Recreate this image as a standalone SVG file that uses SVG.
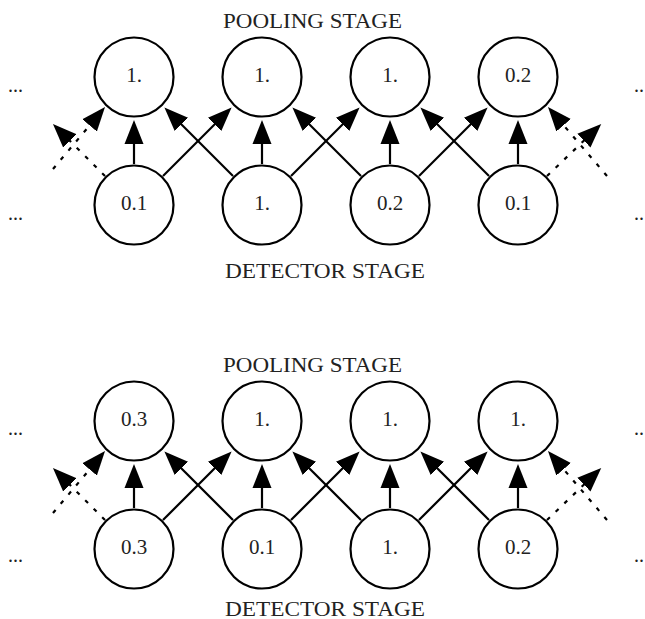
<svg xmlns="http://www.w3.org/2000/svg" width="645" height="619" viewBox="0 0 645 619">
<defs>
<style>
.n circle{fill:#fff;stroke:#000;stroke-width:2.2}
.n text,.lbl,.dots{font-family:"Liberation Serif","Times New Roman",serif;font-size:20px;fill:#222}
.n text{text-anchor:middle;font-size:21px}
.e line{stroke:#000;stroke-width:2.2;marker-end:url(#ah)}
.e line.d{stroke-dasharray:4 8}
</style>
<marker id="ah" markerUnits="userSpaceOnUse" markerWidth="26" markerHeight="22" viewBox="0 -11 26 22" refX="14" refY="0" orient="auto"><path d="M0,-9.5 L24,0 L0,9.5 z" fill="#000"/></marker>
</defs>

<!-- ===== Top panel ===== -->
<text class="lbl" x="223" y="28" textLength="179" lengthAdjust="spacingAndGlyphs">POOLING STAGE</text>
<text class="lbl" x="225" y="278" textLength="200" lengthAdjust="spacingAndGlyphs">DETECTOR STAGE</text>
<text class="dots" x="8" y="91.5">...</text>
<text class="dots" x="8" y="219.5">...</text>
<text class="dots" x="634" y="91.5">..</text>
<text class="dots" x="634" y="219.5">..</text>

<g id="edges-top" class="e">
<line x1="134" y1="164" x2="134" y2="130"/>
<line x1="262" y1="164" x2="262" y2="130"/>
<line x1="390" y1="164" x2="390" y2="130"/>
<line x1="518" y1="164" x2="518" y2="130"/>
<line x1="163" y1="176" x2="224.5" y2="114.5"/>
<line x1="291" y1="176" x2="352.5" y2="114.5"/>
<line x1="419" y1="176" x2="480.5" y2="114.5"/>
<line x1="233" y1="176" x2="171.5" y2="114.5"/>
<line x1="361" y1="176" x2="299.5" y2="114.5"/>
<line x1="489" y1="176" x2="427.5" y2="114.5"/>
<line class="d" x1="105" y1="176" x2="60" y2="131"/>
<line class="d" x1="53" y1="169" x2="98.6" y2="114.7"/>
<line class="d" x1="547" y1="176" x2="594" y2="131"/>
<line class="d" x1="607" y1="176" x2="554.5" y2="114.6"/>
</g>

<g id="p1" class="n"><circle cx="134" cy="77" r="39.5"/><text x="134" y="82">1.</text></g>
<g id="p2" class="n"><circle cx="262" cy="77" r="39.5"/><text x="262" y="82">1.</text></g>
<g id="p3" class="n"><circle cx="390" cy="77" r="39.5"/><text x="390" y="82">1.</text></g>
<g id="p4" class="n"><circle cx="518" cy="77" r="39.5"/><text x="518" y="82">0.2</text></g>
<g id="d1" class="n"><circle cx="134" cy="205" r="39.5"/><text x="134" y="210">0.1</text></g>
<g id="d2" class="n"><circle cx="262" cy="205" r="39.5"/><text x="262" y="210">1.</text></g>
<g id="d3" class="n"><circle cx="390" cy="205" r="39.5"/><text x="390" y="210">0.2</text></g>
<g id="d4" class="n"><circle cx="518" cy="205" r="39.5"/><text x="518" y="210">0.1</text></g>

<!-- ===== Bottom panel ===== -->
<text class="lbl" x="223" y="372" textLength="179" lengthAdjust="spacingAndGlyphs">POOLING STAGE</text>
<text class="lbl" x="225" y="616" textLength="200" lengthAdjust="spacingAndGlyphs">DETECTOR STAGE</text>
<text class="dots" x="8" y="434.5">...</text>
<text class="dots" x="8" y="561.5">...</text>
<text class="dots" x="634" y="434.5">..</text>
<text class="dots" x="634" y="561.5">..</text>

<g id="edges-bottom" class="e" transform="translate(0,344)">
<line x1="134" y1="164" x2="134" y2="130"/>
<line x1="262" y1="164" x2="262" y2="130"/>
<line x1="390" y1="164" x2="390" y2="130"/>
<line x1="518" y1="164" x2="518" y2="130"/>
<line x1="163" y1="176" x2="224.5" y2="114.5"/>
<line x1="291" y1="176" x2="352.5" y2="114.5"/>
<line x1="419" y1="176" x2="480.5" y2="114.5"/>
<line x1="233" y1="176" x2="171.5" y2="114.5"/>
<line x1="361" y1="176" x2="299.5" y2="114.5"/>
<line x1="489" y1="176" x2="427.5" y2="114.5"/>
<line class="d" x1="105" y1="176" x2="60" y2="131"/>
<line class="d" x1="53" y1="169" x2="98.6" y2="114.7"/>
<line class="d" x1="547" y1="176" x2="594" y2="131"/>
<line class="d" x1="607" y1="176" x2="554.5" y2="114.6"/>
</g>

<g id="q1" class="n"><circle cx="134" cy="421" r="39.5"/><text x="134" y="426">0.3</text></g>
<g id="q2" class="n"><circle cx="262" cy="421" r="39.5"/><text x="262" y="426">1.</text></g>
<g id="q3" class="n"><circle cx="390" cy="421" r="39.5"/><text x="390" y="426">1.</text></g>
<g id="q4" class="n"><circle cx="518" cy="421" r="39.5"/><text x="518" y="426">1.</text></g>
<g id="e1" class="n"><circle cx="134" cy="549" r="39.5"/><text x="134" y="554">0.3</text></g>
<g id="e2" class="n"><circle cx="262" cy="549" r="39.5"/><text x="262" y="554">0.1</text></g>
<g id="e3" class="n"><circle cx="390" cy="549" r="39.5"/><text x="390" y="554">1.</text></g>
<g id="e4" class="n"><circle cx="518" cy="549" r="39.5"/><text x="518" y="554">0.2</text></g>
</svg>
